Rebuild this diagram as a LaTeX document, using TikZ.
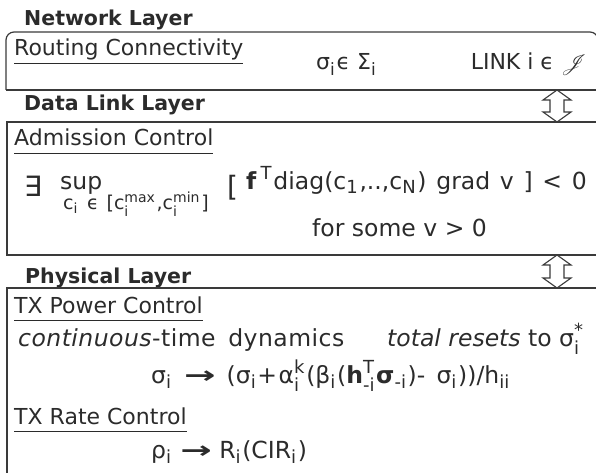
\documentclass[tikz,border=0pt]{standalone}
\usepackage{fontspec}
\setmainfont{DejaVu Sans}
\usepackage{amsmath}
\usepackage{mathrsfs}
\usepackage{graphicx}
\usetikzlibrary{calc}
\definecolor{ink}{HTML}{2B2B2B}
\definecolor{rulecol}{HTML}{3A3A3A}

% script sizes used by the formulas
\DeclareMathSizes{22}{22}{17}{13}
\DeclareMathSizes{23.5}{23.5}{18}{13.5}
\DeclareMathSizes{19}{19}{14}{11.5}

% text-font sub- and superscripts
\newcommand\sbs[1]{$_\text{#1}$\kern1.2pt\relax}
\newcommand\sps[2]{$^\text{#1}_\text{#2}$\kern1.2pt\relax}
\newcommand\spo[1]{$^\text{#1}$\kern1.5pt\relax}
\newcommand\ul[1]{\underline{\vphantom{gy}#1}}
\newcommand\maps{\scalebox{1.6}[1]{\bfseries →}}
\newcommand\widesp[1]{\spaceskip=#1\fontdimen2\font\relax}
% hollow two-headed block arrow between two named points (top, bottom)
\newcommand\dblarrow[2]{%
  \draw[updown] (#1) -- ($(#1)+(14,10)$) -- ($(#1)+(7,10)$) -- ($(#2)+(7,-10)$)
    -- ($(#2)+(14,-10)$) -- (#2) -- ($(#2)+(-14,-10)$) -- ($(#2)+(-7,-10)$)
    -- ($(#1)+(-7,10)$) -- ($(#1)+(-14,10)$) -- cycle;}

\begin{document}
\begin{tikzpicture}[x=1pt,y=-1pt,
  txt/.style={inner sep=0pt, anchor=base west, text=ink, font=\fontsize{22}{26}\selectfont},
  body/.style={txt, font=\fontsize{23.5}{28}\selectfont},
  layer/.style={txt, font=\fontsize{20.5}{24}\selectfont\bfseries},
  frame/.style={draw=rulecol, line width=1.2pt},
  updown/.style={draw=rulecol, line width=1.1pt, fill=white, line join=miter}]

\useasboundingbox (0,0) rectangle (596,473);

% ---- network layer ----
\node[layer] (netl) at (24,26) {Network Layer};
\draw[frame, rounded corners=8pt] (6,90) -- (6,32) -- (598,32) -- (598,90);
\draw[frame] (6,90) -- (600,90);
\node[txt] (routing) at (14,56) {\ul{Routing Connectivity}};
\node[txt] (sigma) at (316,70) {σ\sbs{i}ϵ Σ\sbs{i}};
\node[txt, anchor=base east] (link) at (587,70) {LINK i ϵ $\mathscr{J}$};

% ---- data link layer ----
\node[layer] (dll) at (24,111) {Data Link Layer};
\draw[frame] (600,122) -- (7,122) -- (7,255) -- (600,255);
\node[txt] (adm) at (14,146) {\ul{Admission Control}};
\node[txt, font=\fontsize{28}{32}\selectfont] (exists) at (24,196) {∃};
\node[body] (sup) at (60,189) {sup};
\node[txt, font=\fontsize{19}{22}\selectfont\widesp{1.3}] (range) at (63,209)
  {c\sbs{i} ϵ [c\sps{max}{i},c\sps{min}{i}]};
\node[txt, font=\fontsize{28}{32}\selectfont] (brk) at (227,196) {[};
\node[body, font=\fontsize{23.5}{28}\selectfont\widesp{1.3}, anchor=base east] (cond) at (587,189)
  {\textbf{f}\,\spo{T}diag(c\sbs{1},..,c\sbs{N}) grad v ] < 0};
\node[body] (some) at (312,236) {for some v > 0};

% ---- physical layer ----
\node[layer] (phy) at (25,283) {Physical Layer};
\draw[frame] (600,288) -- (7,288) -- (7,480);
\node[txt] (txp) at (14,313) {\ul{TX Power Control}};
\node[body, font=\fontsize{23.5}{28}\selectfont\addfontfeature{LetterSpace=2}\widesp{1.6}] (cont) at (18,346)
  {\textit{continuous}-time dynamics};
\node[body] (reset) at (387,346) {\textit{total resets} to σ\sps{*}{i}};
\node[body, font=\fontsize{23.5}{28}\selectfont\widesp{1.5}] (upd) at (151,383)
  {σ\sbs{i} \maps{} (σ\sbs{i}+\kern1.5pt α\sps{k}{i}(β\sbs{i}(\textbf{h}\sps{T}{-i}\textbf{σ}\sbs{-i})- σ\sbs{i}))/h\sbs{ii}};
\node[txt] (txr) at (14,424) {\ul{TX Rate Control}};
\node[body] (rate) at (151,458) {ρ\sbs{i} \maps{} R\sbs{i}(CIR\sbs{i})};

% ---- links between layers ----
\coordinate (n1) at (557,90);
\coordinate (d1) at (557,122);
\coordinate (d2) at (557,255);
\coordinate (p2) at (557,288);
\dblarrow{n1}{d1}
\dblarrow{d2}{p2}
\end{tikzpicture}
\end{document}
